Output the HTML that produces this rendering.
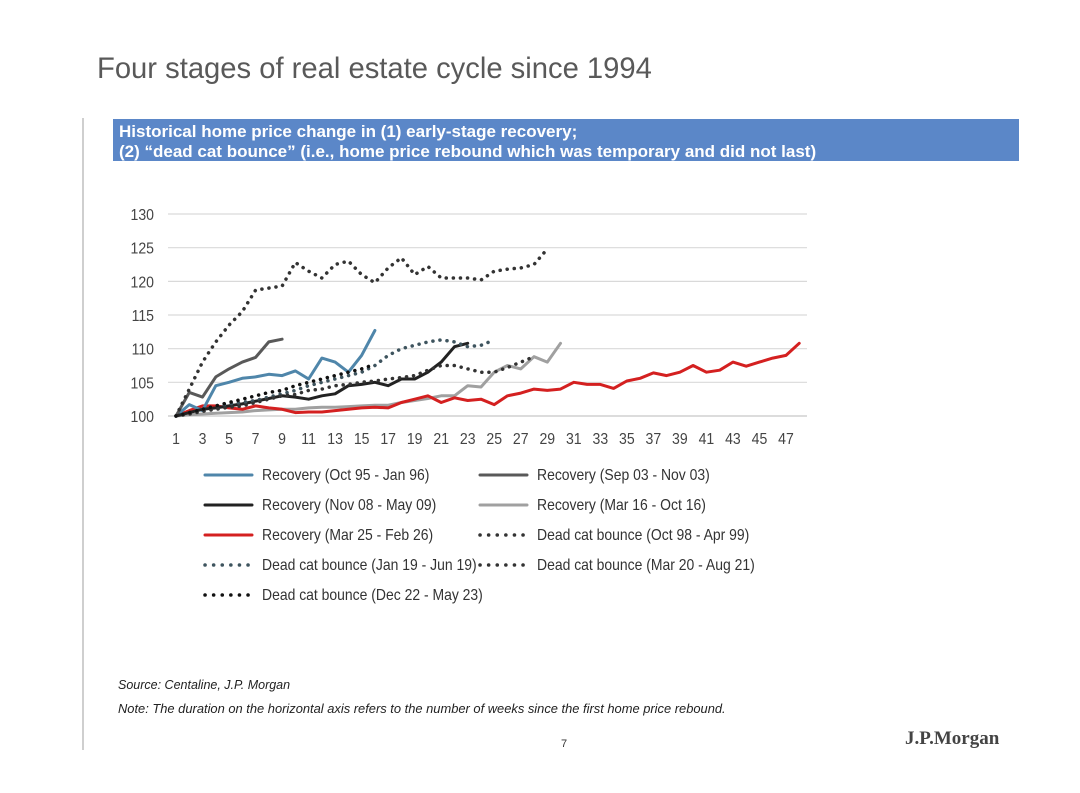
<!DOCTYPE html>
<html><head><meta charset="utf-8">
<style>
html,body{margin:0;padding:0;background:#fff;}
body{width:1080px;height:788px;position:relative;overflow:hidden;font-family:"Liberation Sans",sans-serif;}
</style></head>
<body>
<svg id="page" width="1080" height="788" viewBox="0 0 1080 788" xmlns="http://www.w3.org/2000/svg">
  <text x="97" y="78" font-size="29.2" fill="#595959" font-family="Liberation Sans, sans-serif">Four stages of real estate cycle since 1994</text>
  <line x1="83" y1="118" x2="83" y2="750" stroke="#bfbfbf" stroke-width="1.5"/>
  <rect x="113" y="119" width="906" height="42" fill="#5b87c8"/>
  <text x="119" y="137" font-size="17" font-weight="bold" fill="#fff">Historical home price change in (1) early-stage recovery;</text>
  <text x="119" y="157" font-size="17" font-weight="bold" fill="#fff">(2) “dead cat bounce” (i.e., home price rebound which was temporary and did not last)</text>
  <g id="grid"></g>
  <g id="yticks"></g>
  <g id="xticks"></g>
  <g id="series"></g>
  <g id="legend"></g>
  <text x="118" y="689" font-size="12.5" font-style="italic" fill="#222">Source: Centaline, J.P. Morgan</text>
  <text x="118" y="713" font-size="12.9" font-style="italic" fill="#222">Note: The duration on the horizontal axis refers to the number of weeks since the first home price rebound.</text>
  <text x="561" y="747" font-size="11" fill="#333">7</text>
  <text x="905" y="744" font-size="19" font-weight="bold" fill="#444" font-family="Liberation Serif, serif">J.P.Morgan</text>
</svg>
<script>
const yTicks=[100,105,110,115,120,125,130];
const xTickLabels=[1,3,5,7,9,11,13,15,17,19,21,23,25,27,29,31,33,35,37,39,41,43,45,47];
const seriesNames=["Recovery (Oct 95 - Jan 96)","Recovery (Sep 03 - Nov 03)","Recovery (Nov 08 - May 09)","Recovery (Mar 16 - Oct 16)","Recovery (Mar 25 - Feb 26)","Dead cat bounce (Oct 98 - Apr 99)","Dead cat bounce (Jan 19 - Jun 19)","Dead cat bounce (Mar 20 - Aug 21)","Dead cat bounce (Dec 22 - May 23)"];
const sOct95=[100,101.7,100.8,104.5,105,105.6,105.8,106.2,106,106.7,105.5,108.6,108,106.5,109,112.7];
const sSep03=[100,103.5,102.8,105.8,107,108,108.7,111,111.4];
const sNov08=[100,100.5,101,101.2,101.5,101.8,102.2,102.6,103,102.8,102.5,103,103.3,104.5,104.7,105,104.5,105.5,105.5,106.5,108,110.3,110.8];
const sMar16=[100,100.2,100.3,100.4,100.5,100.6,100.8,100.9,101,101,101.2,101.3,101.3,101.4,101.5,101.6,101.6,102,102.3,102.6,103,103,104.5,104.3,106.5,107.5,107,108.8,108,110.8];
const sMar25=[100,100.8,101.5,101.5,101.2,101,101.5,101.2,101,100.5,100.6,100.6,100.8,101,101.2,101.3,101.2,102,102.5,103,102,102.7,102.3,102.5,101.7,103,103.4,104,103.8,104,105,104.7,104.7,104.1,105.2,105.6,106.4,106,106.5,107.5,106.5,106.8,108,107.4,108,108.6,109,110.8];
const sOct98=[100,104,108,111,113.5,115.5,118.7,119,119.3,122.8,121.5,120.5,122.5,123,121,119.8,122,123.5,121,122.2,120.5,120.5,120.5,120.2,121.5,121.8,122,122.5,124.8];
const sJan19=[100,100.5,101,101.5,101.8,102,102.3,102.8,103.3,103.8,104.5,105,105.5,106,106.5,107.5,109,110,110.5,111,111.3,111,110.3,110.5,111.3];
const sMar20=[100,100.3,100.7,101,101.3,101.5,102,102.5,103,103.2,103.8,104,104.5,104.7,105,105.2,105.5,105.7,106,106.8,107.5,107.5,107,106.5,106.5,107.2,108,108.8];
const sDec22=[100,100.5,101,101.5,102,102.5,103,103.5,103.8,104.5,105,105.5,106,106.5,107,107.7];

const NS="http://www.w3.org/2000/svg";
const X0=176,XSTEP=13.26,Y100=416,YPU=6.733;
function xs(w){return X0+(w-1)*XSTEP;}
function ys(v){return Y100-(v-100)*YPU;}
function mk(tag,attrs,parent){const e=document.createElementNS(NS,tag);for(const k in attrs)e.setAttribute(k,attrs[k]);parent.appendChild(e);return e;}
const grid=document.getElementById('grid'),yt=document.getElementById('yticks'),xt=document.getElementById('xticks'),sg=document.getElementById('series'),lg=document.getElementById('legend');
yTicks.forEach(v=>{
  const l=mk('line',{x1:168,x2:807,y1:ys(v),y2:ys(v),stroke:v===100?'#c8c8c8':'#d9d9d9','stroke-width':1.2},grid);
  
  
  const t=mk('text',{x:0,y:0,'font-size':16,fill:'#444','text-anchor':'end',transform:'translate(154,'+(ys(v)+6)+') scale(0.88,1)'},yt);
  t.textContent=v;
  
  
});
xTickLabels.forEach(w=>{
  const t=mk('text',{x:0,y:0,'font-size':16,fill:'#444','text-anchor':'middle',transform:'translate('+xs(w)+',444) scale(0.88,1)'},xt);
  t.textContent=w;
  
  
});
const seriesData=[sOct95,sSep03,sNov08,sMar16,sMar25,sOct98,sJan19,sMar20,sDec22];
const styles=[
 {c:'#4f86aa',w:3,d:false},{c:'#595959',w:3,d:false},{c:'#222',w:3,d:false},{c:'#a0a0a0',w:3,d:false},{c:'#d42020',w:3,d:false},
 {c:'#333',w:3.5,d:true},{c:'#3e545e',w:3.5,d:true},{c:'#333',w:3.5,d:true},{c:'#111',w:3.5,d:true}];
const keys=['oct95','sep03','nov08','mar16','mar25','oct98','jan19','mar20','dec22'];
const drawOrder=[3,4,0,1,2,5,6,7,8];
drawOrder.forEach(i=>{
  const d=seriesData[i],s=styles[i];
  const pts=d.map((v,k)=>xs(k+1).toFixed(1)+','+ys(v).toFixed(1)).join(' ');
  const a={points:pts,fill:'none',stroke:s.c,'stroke-width':s.w,'stroke-linejoin':'round','stroke-linecap':'round'};
  if(s.d){a['stroke-dasharray']='0.1 7';}
  const p=mk('polyline',a,sg);
  
  
});
const legPos=[[205,475],[480,475],[205,505],[480,505],[205,535],[480,535],[205,565],[480,565],[205,595]];
seriesNames.forEach((n,i)=>{
  const [lx,ly]=legPos[i],s=styles[i];
  const a={x1:lx,x2:lx+47,y1:ly,y2:ly,stroke:s.c,'stroke-width':s.w,'stroke-linecap':'round'};
  if(s.d){a['stroke-dasharray']='0.1 8.5';}
  const l=mk('line',a,lg);
  
  
  const t=mk('text',{x:0,y:0,'font-size':15.5,fill:'#333',transform:'translate('+(lx+57)+','+(ly+5)+') scale(0.9,1)'},lg);
  t.textContent=n;
  
  
});
</script>
</body></html>
